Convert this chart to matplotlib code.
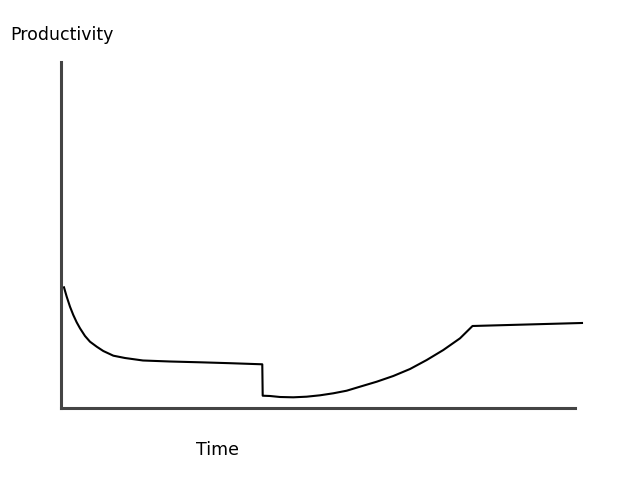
import matplotlib

matplotlib.use("Agg")
import matplotlib.pyplot as plt

# curve, time and productivity on a 0-100 scale
decay_time = [0.58, 1.11, 1.75, 2.39, 3.05, 3.70, 4.67, 5.64, 6.95, 8.23,
              10.18, 12.45, 15.95, 21.21, 27.04, 32.88, 39.16]
decay_prod = [34.88, 32.17, 29.28, 26.88, 24.77, 23.03, 20.81, 19.16, 17.72, 16.47,
              15.12, 14.45, 13.73, 13.44, 13.21, 12.95, 12.63]
recover_time = [39.24, 40.66, 42.61, 45.19, 47.80, 50.39, 52.98, 55.58, 58.17,
                61.42, 64.65, 67.90, 71.15, 74.38, 77.63, 80.06, 101.36]
recover_prod = [3.55, 3.47, 3.18, 3.09, 3.27, 3.67, 4.25, 5.00, 6.16,
                7.60, 9.25, 11.27, 13.87, 16.76, 20.14, 23.70, 24.57]

time = decay_time + recover_time
productivity = decay_prod + recover_prod

fig = plt.figure(figsize=(6.4, 4.8), dpi=100)
ax = fig.add_axes([61 / 640, 72 / 480, 514 / 640, 346 / 480])

ax.plot(time, productivity, color="black", linewidth=1.5, clip_on=False,
        solid_joinstyle="round")

ax.set_xlim(0, 100)
ax.set_ylim(0, 100)
for side in ("top", "right"):
    ax.spines[side].set_visible(False)
for side in ("left", "bottom"):
    ax.spines[side].set_color("#444444")
    ax.spines[side].set_linewidth(2.2)
ax.set_xticks([])
ax.set_yticks([])

fig.text(10 / 640, 1 - 35 / 480, "Productivity", fontsize=12.5, va="center", ha="left")
fig.text(217 / 640, 1 - 450 / 480, "Time", fontsize=12.5, va="center", ha="center")

fig.savefig("out.png", dpi=100)
